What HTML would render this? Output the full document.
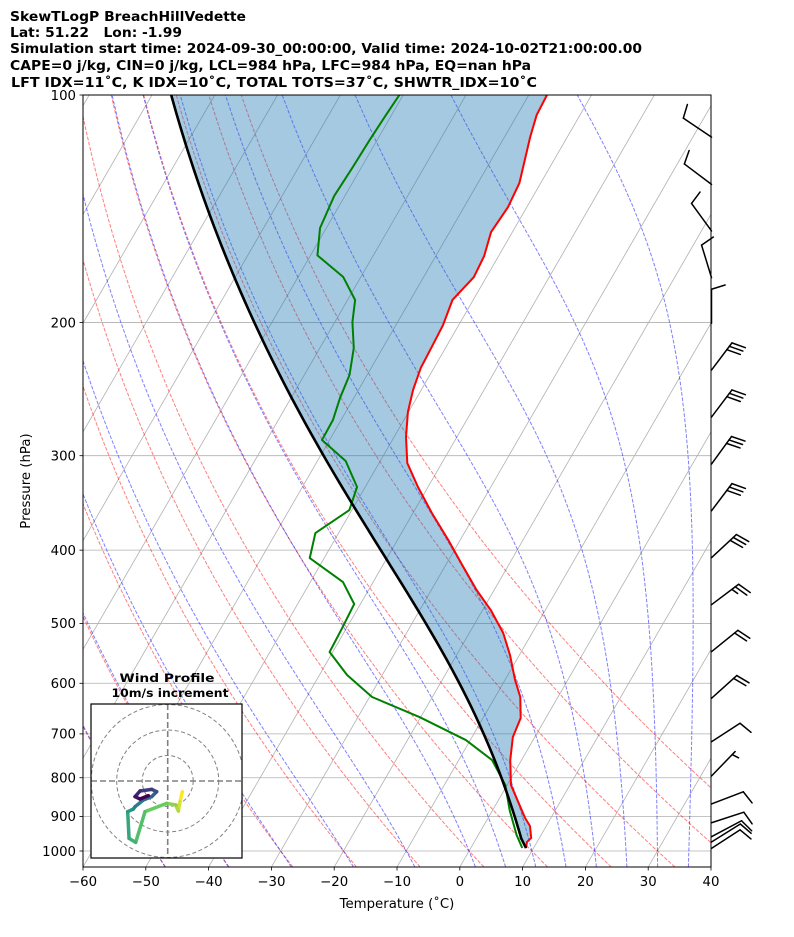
<!DOCTYPE html>
<html><head><meta charset="utf-8"><title>SkewT</title>
<style>
html,body{margin:0;padding:0;background:#fff;}
svg{display:block;font-family:"DejaVu Sans","Liberation Sans",sans-serif;}
</style></head>
<body>
<svg id="chart" width="794" height="937" viewBox="0 0 794 937" xmlns="http://www.w3.org/2000/svg">
<rect x="0" y="0" width="794" height="937" fill="#fff"/>
<defs>
<clipPath id="plotclip"><rect x="83" y="95" width="628" height="772"/></clipPath>
<clipPath id="hodoclip"><rect x="91" y="704" width="151" height="154"/></clipPath>
</defs>
<g font-weight="bold" font-size="13.3" fill="#000">
<text x="10" y="21" textLength="236" lengthAdjust="spacingAndGlyphs">SkewTLogP BreachHillVedette</text>
<text x="10" y="37" textLength="172" lengthAdjust="spacingAndGlyphs">Lat: 51.22&#160;&#160;&#160;Lon: -1.99</text>
<text x="10" y="53" textLength="632" lengthAdjust="spacingAndGlyphs">Simulation start time: 2024-09-30_00:00:00, Valid time: 2024-10-02T21:00:00.00</text>
<text x="10" y="70" textLength="521" lengthAdjust="spacingAndGlyphs">CAPE=0 j/kg, CIN=0 j/kg, LCL=984 hPa, LFC=984 hPa, EQ=nan hPa</text>
<text x="11" y="87" textLength="526" lengthAdjust="spacingAndGlyphs">LFT IDX=11˚C, K IDX=10˚C, TOTAL TOTS=37˚C, SHWTR_IDX=10˚C</text>
</g>
<g id="plot" clip-path="url(#plotclip)"></g>
<rect x="83" y="95" width="628" height="772" fill="none" stroke="#000" stroke-width="1"/>
<g id="axes"></g>
<g id="barbs"></g>
<text x="0" y="0" font-size="13.3" text-anchor="middle" transform="translate(30,481) rotate(-90)">Pressure (hPa)</text>
<text x="397" y="908" font-size="13.3" text-anchor="middle">Temperature (˚C)</text>
<g>
<text x="167" y="682" font-size="11.5" font-weight="bold" text-anchor="middle" textLength="95" lengthAdjust="spacingAndGlyphs">Wind Profile</text>
<text x="170" y="697" font-size="11.5" font-weight="bold" text-anchor="middle" textLength="117" lengthAdjust="spacingAndGlyphs">10m/s increment</text>
<rect x="91" y="704" width="151" height="154" fill="#fff"/>
<g id="hodo" clip-path="url(#hodoclip)"></g>
<rect x="91" y="704" width="151" height="154" fill="none" stroke="#000" stroke-width="1.2"/>
</g>
</svg>
<script>
const tempP=[100,106.3,113.7,130.7,140.6,151.8,163.3,174.1,186.7,201.5,214.1,229.7,245.6,262.6,283.4,306.8,330,357.2,387.8,419.8,451.6,480,514.8,550.5,593.9,625.6,667,706.8,758,817.8,856,904.5,926.7,961,973,991];
const tempT=[-57.1,-56.9,-55.9,-53.4,-53.0,-53.4,-52.3,-52.0,-53.3,-52.5,-52.3,-52.1,-51.3,-50.1,-48.1,-45.5,-41.6,-37.0,-31.9,-27.2,-22.8,-18.7,-14.6,-11.5,-8.4,-6.0,-4.0,-3.5,-1.8,0.6,3.0,5.9,7.4,8.7,8.4,8.8];
const dewP=[100,106.3,114.7,124.9,136,150,163,174.1,186.7,199.7,216.1,234.6,251.6,269.1,286,304.9,330,354,379.7,409.7,440.8,471.3,507,545.5,585.1,625.6,665,713.3,758,817.8,882.8,952.4,991];
const dewT=[-80.6,-80.9,-81.2,-81.4,-81.7,-81.0,-78.9,-72.8,-68.8,-67.2,-64.6,-62.8,-62.2,-61.3,-61.2,-55.5,-51.3,-50.4,-53.7,-52.3,-44.8,-41.0,-40.7,-40.5,-35.6,-29.6,-20.2,-10.7,-4.7,-0.3,2.7,6.1,8.2];
const windP=[113.7,131.3,151.3,174.4,200.4,231.1,266.7,307.7,354.8,409.3,472.3,545,628.1,717,795.8,866.5,917.5,957.4,973,992];
const windDir=[304,307,324,343,0,37,37,36,37,47,53,51,48,57,44,69,72,62,58,57];
const windSpd=[10,10,10,10,10,30,30,30,30,30,25,20,20,10,5,10,10,10,10,10];
const hodoU=[5.75,4.84,4.18,3.14,-0.39,-8.89,-12.55,-15.16,-15.69,-13.46,-12.81,-9.54,-6.27,-4.31,-6.27,-10.85,-12.81,-10.85,-7.58];
const hodoV=[-4.18,-8.1,-11.76,-9.41,-8.76,-12.03,-24.05,-22.48,-12.03,-10.98,-10.07,-7.45,-6.14,-4.18,-3.27,-3.92,-6.14,-7.06,-5.75];
const xTicks=[-60,-50,-40,-30,-20,-10,0,10,20,30,40];
const pTicks=[100,200,300,400,500,600,700,800,900,1000];
const dryT0=[-50,-40,-30,-20,-10,0,10,20,30,40,50];
const moistT0=[-50,-40,-30,-20,-10,0,5,10,15,20,25,30,35,40];

const NS="http://www.w3.org/2000/svg";
const P_TOP=100,P_BOT=1050;
function yOf(p){return 95+756*Math.log10(p/100);}
function xOf(T,p){return 83+(T+60)*6.28+0.5774*(867-yOf(p));}
function mk(parent,tag,attrs){const e=document.createElementNS(NS,tag);for(const k in attrs)e.setAttribute(k,attrs[k]);parent.appendChild(e);return e;}
function pts(Ts,Ps){return Ts.map((t,i)=>xOf(t,Ps[i]).toFixed(2)+","+yOf(Ps[i]).toFixed(2)).join(" ");}
function es(TK){return 6.112*Math.exp(17.67*(TK-273.15)/(TK-29.65));}
function dTdp(TK,p){const e=es(TK);const rs=0.622*e/(p-e);const Rd=287.04,Cp=1005.7,Lv=2.501e6;
 return (Rd*TK+Lv*rs)/(Cp+Lv*Lv*rs*0.622/(Rd*TK*TK))/p;}
function moistPath(TK0,p0,p1,n){const out=[[p0,TK0]];let T=TK0,p=p0;const h=(p1-p0)/n;
 for(let i=0;i<n;i++){const k1=dTdp(T,p),k2=dTdp(T+h/2*k1,p+h/2),k3=dTdp(T+h/2*k2,p+h/2),k4=dTdp(T+h*k3,p+h);
  T+=h/6*(k1+2*k2+2*k3+k4);p+=h;out.push([p,T]);}return out;}
function moistAt(TK0,p0,p){if(Math.abs(p-p0)<1e-6)return TK0;const n=Math.max(4,Math.ceil(Math.abs(p-p0)/4));const r=moistPath(TK0,p0,p,n);return r[r.length-1][1];}

const plot=document.getElementById('plot');
for(let T=-140;T<=40;T+=10){
 const l=mk(plot,'line',{x1:xOf(T,P_BOT),y1:yOf(P_BOT),x2:xOf(T,P_TOP),y2:yOf(P_TOP),stroke:'#b0b0b0','stroke-width':0.8});
 
 
}
pTicks.forEach(p=>{
 const l=mk(plot,'line',{x1:83,y1:yOf(p),x2:711,y2:yOf(p),stroke:'#b0b0b0','stroke-width':0.8});
 
 
});
dryT0.forEach(t0=>{
 const Ts=[],Ps=[];
 for(let i=0;i<=40;i++){const p=P_BOT*Math.pow(P_TOP/P_BOT,i/40);Ps.push(p);Ts.push((t0+273.15)*Math.pow(p/1000,0.2857)-273.15);}
 const l=mk(plot,'polyline',{points:pts(Ts,Ps),fill:'none',stroke:'rgba(255,0,0,0.5)','stroke-width':1,'stroke-dasharray':'3.7,1.6'});
 
 
});
moistT0.forEach(t0=>{
 const up=moistPath(t0+273.15,1000,P_TOP,90);const dn=moistPath(t0+273.15,1000,P_BOT,10);
 const all=dn.reverse().concat(up.slice(1));
 const l=mk(plot,'polyline',{points:pts(all.map(a=>a[1]-273.15),all.map(a=>a[0])),fill:'none',stroke:'rgba(0,0,255,0.5)','stroke-width':1,'stroke-dasharray':'3.7,1.6'});
 
 
});
const p0=tempP[tempP.length-1],T0=tempT[tempT.length-1]+273.15,Td0=dewT[dewT.length-1]+273.15;
const Tlcl=1/(1/(Td0-56)+Math.log(T0/Td0)/800)+56;
const plcl=p0*Math.pow(Tlcl/T0,3.5);
function parcelT(p){if(p>=plcl)return T0*Math.pow(p/p0,0.2857)-273.15;return moistAt(Tlcl,plcl,p)-273.15;}
const parcelPs=[],parcelTs=[];
for(let i=0;i<=80;i++){const p=p0*Math.pow(P_TOP/p0,i/80);parcelPs.push(p);parcelTs.push(parcelT(p));}
const envPts=tempT.map((t,i)=>xOf(t,tempP[i]).toFixed(2)+","+yOf(tempP[i]).toFixed(2));
const parPts=tempP.map(p=>xOf(parcelT(p),p).toFixed(2)+","+yOf(p).toFixed(2)).reverse();
const fill=mk(plot,'polygon',{points:envPts.concat(parPts).join(" "),fill:'rgba(31,119,180,0.4)',stroke:'none'});


const tl=mk(plot,'polyline',{points:pts(tempT,tempP),fill:'none',stroke:'#ff0000','stroke-width':2,'stroke-linejoin':'round'});


const dl=mk(plot,'polyline',{points:pts(dewT,dewP),fill:'none',stroke:'#008000','stroke-width':2,'stroke-linejoin':'round'});


const pl=mk(plot,'polyline',{points:pts(parcelTs,parcelPs),fill:'none',stroke:'#000','stroke-width':2.6,'stroke-linejoin':'round'});



const axes=document.getElementById('axes');
xTicks.forEach(T=>{
 const x=83+(T+60)*6.28;
 const t=mk(axes,'line',{x1:x,y1:867,x2:x,y2:870.5,stroke:'#000','stroke-width':0.8});
 
 
 const lb=mk(axes,'text',{x:x,y:886,'font-size':13.3,'text-anchor':'middle'});
 lb.textContent=(T<0?'\u2212'+Math.abs(T):String(T));
 
 
});
pTicks.forEach(p=>{
 const y=yOf(p);
 const t=mk(axes,'line',{x1:79.5,y1:y,x2:83,y2:y,stroke:'#000','stroke-width':0.8});
 
 
 const lb=mk(axes,'text',{x:76,y:y+4.8,'font-size':13.3,'text-anchor':'end'});
 lb.textContent=String(p);
 
 
});

const bg=document.getElementById('barbs');
windP.forEach((p,i)=>{
 const y0=yOf(p),bx=711.5,L=34,b=windDir[i]*Math.PI/180;
 const dx=Math.sin(b),dy=-Math.cos(b);const px=-dy,py=dx;
 const tx=bx+L*dx,ty=y0+L*dy;
 const g=mk(bg,'g',{stroke:'#000','stroke-width':1.5,fill:'none','stroke-linecap':'round'});
 
 
 mk(g,'line',{x1:bx,y1:y0,x2:tx,y2:ty});
 const s=windSpd[i];const n10=Math.floor(s/10);const half=(s%10)>=5;const sp=0.125*L;let k=0;
 for(let j=0;j<n10;j++){const qx=tx-k*sp*dx,qy=ty-k*sp*dy;
  mk(g,'line',{x1:qx,y1:qy,x2:qx+0.4*L*px+0.125*L*dx,y2:qy+0.4*L*py+0.125*L*dy});k++;}
 if(half){if(n10===0)k=1;const qx=tx-k*sp*dx,qy=ty-k*sp*dy;
  mk(g,'line',{x1:qx,y1:qy,x2:qx+0.2*L*px+0.0625*L*dx,y2:qy+0.2*L*py+0.0625*L*dy});}
});

const hodo=document.getElementById('hodo');
const hcx=167.7,hcy=781,hs=2.55;
[10,20,30].forEach(r=>{
 const c=mk(hodo,'circle',{cx:hcx,cy:hcy,r:r*hs,fill:'none',stroke:'#808080','stroke-width':1,'stroke-dasharray':'4,2.5'});
 
 
});
const hl1=mk(hodo,'line',{x1:hcx,y1:704,x2:hcx,y2:858,stroke:'#808080','stroke-width':1.6,'stroke-dasharray':'6,3'});


const hl2=mk(hodo,'line',{x1:91,y1:hcy,x2:242,y2:hcy,stroke:'#808080','stroke-width':1.6,'stroke-dasharray':'6,3'});


const vir=[[253,231,37],[94,201,98],[33,145,140],[59,82,139],[68,1,84]];
function vcol(t){const s=t*(vir.length-1);const i=Math.min(vir.length-2,Math.floor(s));const f=s-i;
 const c=vir[i].map((v,j)=>Math.round(v+(vir[i+1][j]-v)*f));return 'rgb('+c.join(',')+')';}
for(let i=0;i<hodoU.length-1;i++){
 const seg=mk(hodo,'line',{x1:hcx+hodoU[i]*hs,y1:hcy-hodoV[i]*hs,x2:hcx+hodoU[i+1]*hs,y2:hcy-hodoV[i+1]*hs,stroke:vcol(i/(hodoU.length-2)),'stroke-width':3.5,'stroke-linecap':'round'});
 
 
}
</script>
</body></html>
